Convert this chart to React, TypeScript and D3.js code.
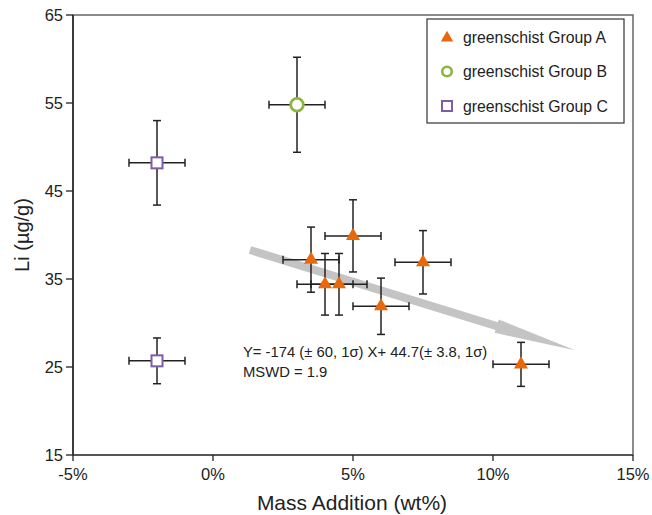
import React from 'react'
import * as d3 from 'd3'

// values
const xTicks = [-5, 0, 5, 10, 15]
const yTicks = [15, 25, 35, 45, 55, 65]

const groupAX = [3.5, 4, 4.5, 5, 6, 7.5, 11]
const groupAY = [37.2, 34.4, 34.4, 39.9, 31.9, 36.9, 25.3]
const groupAYErr = [3.7, 3.5, 3.5, 4.1, 3.2, 3.6, 2.5]
const groupAXErr = [1, 1, 1, 1, 1, 1, 1]

const groupBX = [3]
const groupBY = [54.8]
const groupBYErr = [5.4]
const groupBXErr = [1]

const groupCX = [-2, -2]
const groupCY = [48.2, 25.7]
const groupCYErr = [4.8, 2.6]
const groupCXErr = [1, 1]

// schematic trend arrow (start, tip) in data units
const arrowFrom = [1.32, 38.3]
const arrowTo = [12.93, 26.9]

const legendLabels = ['greenschist Group A', 'greenschist Group B', 'greenschist Group C']

const ORANGE = '#e8680c'
const GREEN = '#8cb640'
const PURPLE = '#7d5ca8'
const FONT = '"Liberation Sans", Arial, Helvetica, sans-serif'

const W = 652
const H = 515
const margin = { top: 15, right: 19, bottom: 60, left: 73 }

const x = d3.scaleLinear().domain([-5, 15]).range([margin.left, W - margin.right])
const y = d3.scaleLinear().domain([15, 65]).range([H - margin.bottom, margin.top])

const tri = d3.symbol().type(d3.symbolTriangle).size(85)
const triLegend = d3.symbol().type(d3.symbolTriangle).size(66)

interface Pt { x: number; y: number; xe: number; ye: number }

const zip = (xs: number[], ys: number[], xe: number[], ye: number[]): Pt[] =>
  xs.map((v, i) => ({ x: v, y: ys[i], xe: xe[i], ye: ye[i] }))

const ptsA = zip(groupAX, groupAY, groupAXErr, groupAYErr)
const ptsB = zip(groupBX, groupBY, groupBXErr, groupBYErr)
const ptsC = zip(groupCX, groupCY, groupCXErr, groupCYErr)

const ErrorBars: React.FC<{ p: Pt }> = ({ p }) => {
  const cx = x(p.x)
  const cy = y(p.y)
  const x0 = x(p.x - p.xe)
  const x1 = x(p.x + p.xe)
  const y0 = y(p.y - p.ye)
  const y1 = y(p.y + p.ye)
  const c = 4
  return (
    <g stroke="#222" strokeWidth={1.5} fill="none">
      <line x1={x0} x2={x1} y1={cy} y2={cy} />
      <line x1={cx} x2={cx} y1={y0} y2={y1} />
      <line x1={x0} x2={x0} y1={cy - c} y2={cy + c} />
      <line x1={x1} x2={x1} y1={cy - c} y2={cy + c} />
      <line x1={cx - c} x2={cx + c} y1={y0} y2={y0} />
      <line x1={cx - c} x2={cx + c} y1={y1} y2={y1} />
    </g>
  )
}

function arrowPath(): string {
  const sx = x(arrowFrom[0]), sy = y(arrowFrom[1])
  const tx = x(arrowTo[0]), ty = y(arrowTo[1])
  const dx = tx - sx, dy = ty - sy
  const len = Math.hypot(dx, dy)
  const ux = dx / len, uy = dy / len
  const nx = -uy, ny = ux
  const hw = 4 // half band width
  const headW = 7
  const headL = 82
  const bx = tx - ux * headL, by = ty - uy * headL
  const pts = [
    [sx + nx * hw, sy + ny * hw],
    [bx + nx * hw, by + ny * hw],
    [bx + nx * headW, by + ny * headW],
    [tx, ty],
    [bx - nx * headW, by - ny * headW],
    [bx - nx * hw, by - ny * hw],
    [sx - nx * hw, sy - ny * hw]
  ]
  return 'M' + pts.map(p => p.join(',')).join('L') + 'Z'
}

export default function App() {
  const left = margin.left
  const right = W - margin.right
  const top = margin.top
  const bottom = H - margin.bottom

  return (
    <svg width={W} height={H} style={{ position: 'absolute', left: 0, top: 0, background: '#fff' }} fontFamily={FONT}>
      {/* frame */}
      <rect x={left} y={top} width={right - left} height={bottom - top} fill="none" stroke="#666" strokeWidth={1.5} />
      <line x1={left} x2={left} y1={top} y2={bottom} stroke="#222" strokeWidth={1.5} />
      <line x1={left} x2={right} y1={bottom} y2={bottom} stroke="#444" strokeWidth={1.5} />

      {/* y axis */}
      {yTicks.map(t => (
        <g key={'y' + t}>
          <line x1={left - 7} x2={left} y1={y(t)} y2={y(t)} stroke="#222" strokeWidth={1.3} />
          <text x={left - 10} y={y(t) + 6} textAnchor="end" fontSize={16.5} fill="#222">{t}</text>
        </g>
      ))}
      {/* x axis */}
      {xTicks.map(t => (
        <g key={'x' + t}>
          <line x1={x(t)} x2={x(t)} y1={bottom} y2={bottom + 6} stroke="#222" strokeWidth={1.3} />
          <text x={x(t)} y={bottom + 25} textAnchor="middle" fontSize={16.5} fill="#222">{t + '%'}</text>
        </g>
      ))}

      <text x={(left + right) / 2 - 1} y={H - 5} textAnchor="middle" fontSize={21} fill="#222">Mass Addition (wt%)</text>
      <text transform={`translate(29,${(top + bottom) / 2}) rotate(-90)`} textAnchor="middle" fontSize={20} fill="#222">Li (µg/g)</text>

      {/* trend arrow */}
      <path d={arrowPath()} fill="#c4c4c4" />

      {/* error bars */}
      {[...ptsA, ...ptsB, ...ptsC].map((p, i) => <ErrorBars key={'e' + i} p={p} />)}

      {/* markers */}
      {ptsA.map((p, i) => (
        <path key={'a' + i} d={tri() as string} transform={`translate(${x(p.x)},${y(p.y)})`} fill={ORANGE} />
      ))}
      {ptsB.map((p, i) => (
        <circle key={'b' + i} cx={x(p.x)} cy={y(p.y)} r={6.3} fill="#fff" stroke={GREEN} strokeWidth={2.8} />
      ))}
      {ptsC.map((p, i) => (
        <rect key={'c' + i} x={x(p.x) - 5.5} y={y(p.y) - 5.5} width={11} height={11} fill="#fff" stroke={PURPLE} strokeWidth={2} />
      ))}

      {/* regression annotation */}
      <text x={243} y={357} fontSize={14.8} fill="#222">Y= -174 (± 60, 1σ) X+ 44.7(± 3.8, 1σ)</text>
      <text x={243} y={377} fontSize={14.8} fill="#222">MSWD = 1.9</text>

      {/* legend */}
      <g>
        <rect x={427} y={19} width={197} height={104} fill="#fff" stroke="#333" strokeWidth={1.2} />
        {legendLabels.map((lab, i) => {
          const cy = 37 + i * 34.5
          return (
            <g key={lab}>
              {i === 0 && <path d={triLegend() as string} transform={`translate(447,${cy + 1})`} fill={ORANGE} />}
              {i === 1 && <circle cx={447} cy={cy} r={4.8} fill="#fff" stroke={GREEN} strokeWidth={2.6} />}
              {i === 2 && <rect x={442} y={cy - 5} width={10} height={10} fill="#fff" stroke={PURPLE} strokeWidth={2} />}
              <text x={463} y={cy + 5.5} fontSize={15.8} fill="#222">{lab}</text>
            </g>
          )
        })}
      </g>
    </svg>
  )
}
